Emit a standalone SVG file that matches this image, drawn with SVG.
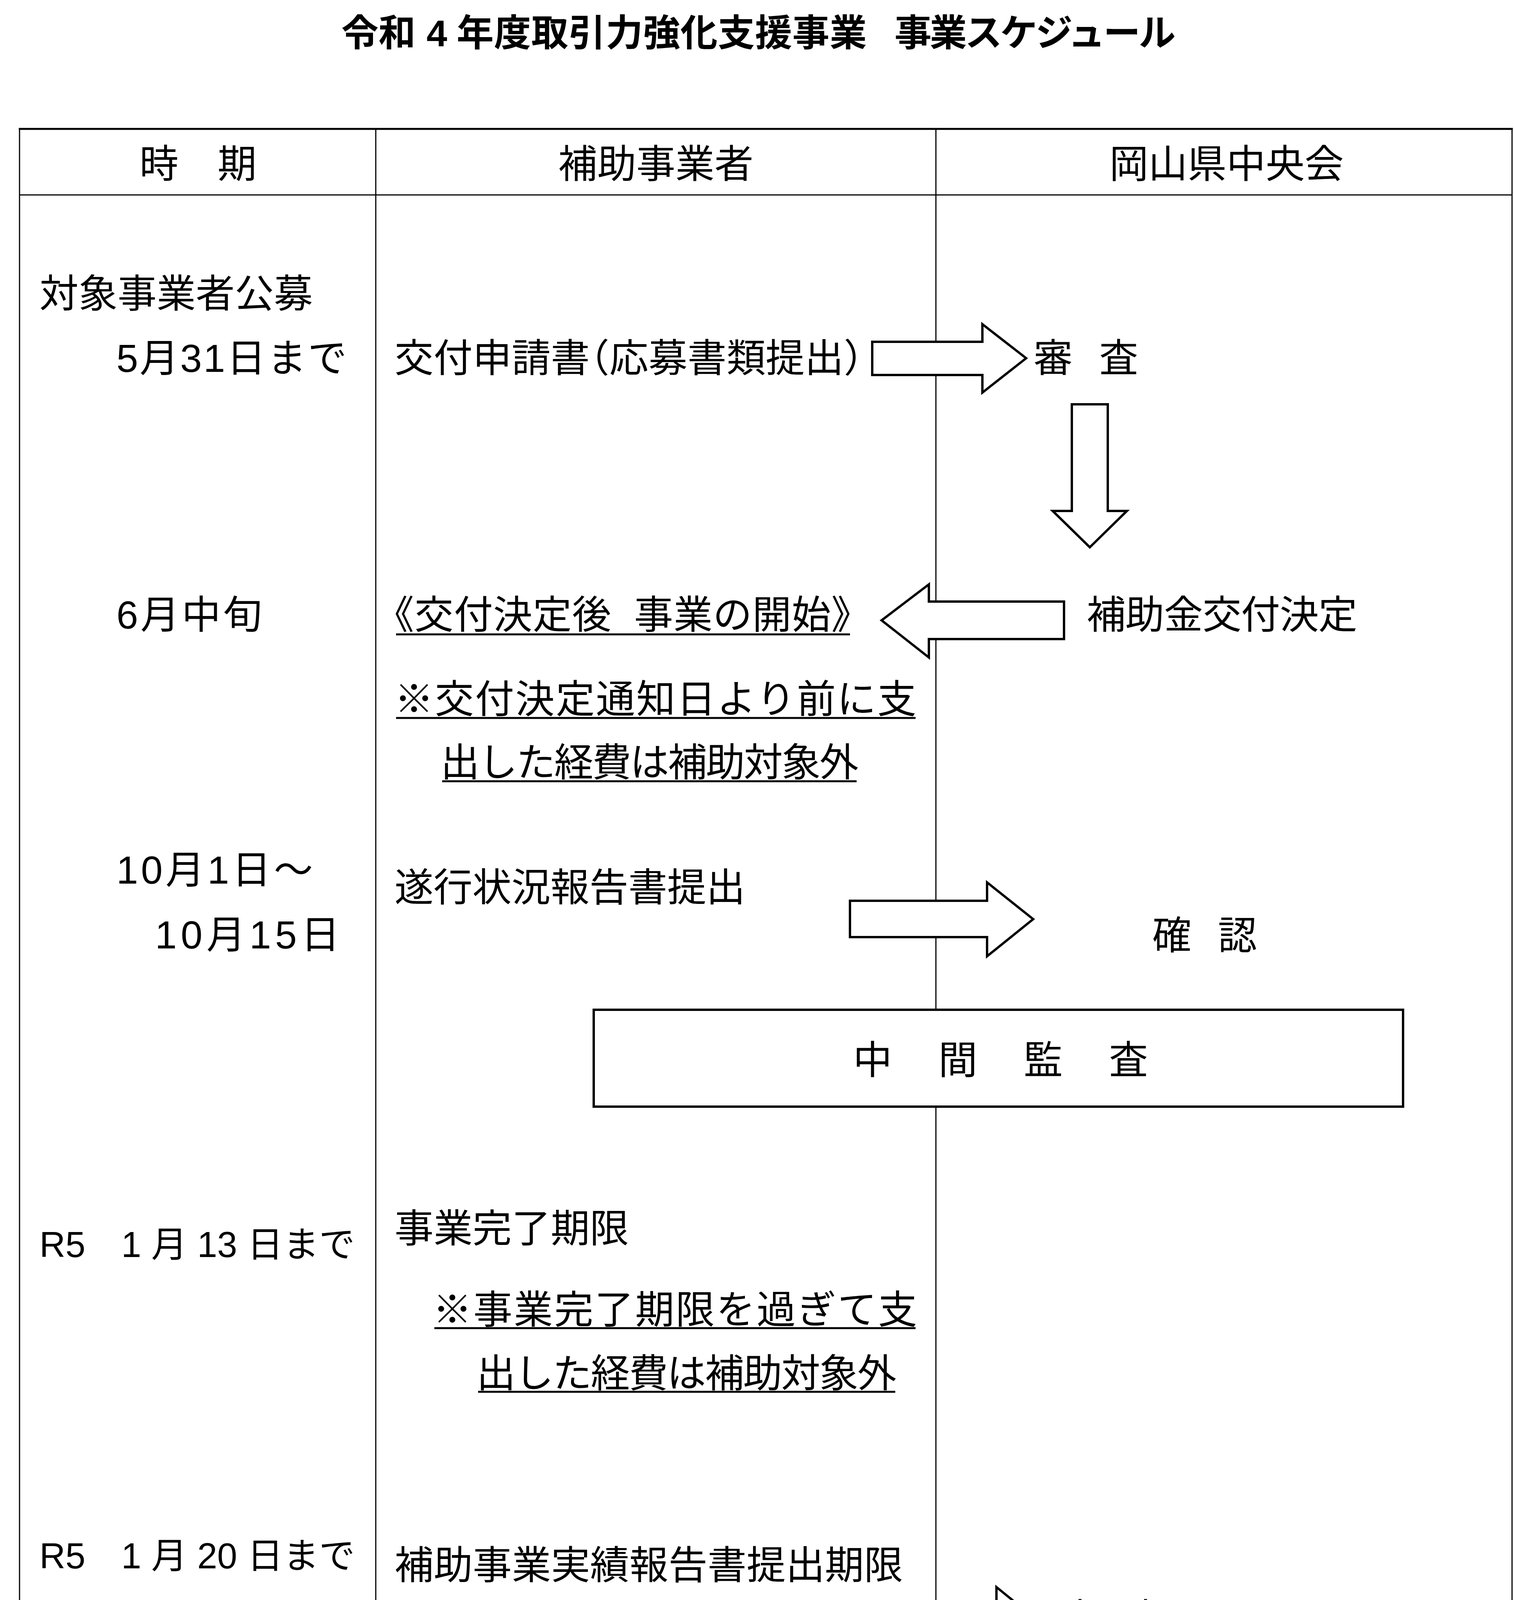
<svg xmlns="http://www.w3.org/2000/svg" width="3876" height="5894" viewBox="0 0 3876 5894">
<style>
.t{font-family:"Liberation Sans","Noto Sans CJK JP",sans-serif;font-size:100px;fill:#000}
.title{font-size:95px;font-weight:bold}
.m{text-anchor:middle}
.halt{font-feature-settings:"halt" 1}
.r5{font-size:92px}
.ln{stroke:#000;fill:none}
.thin{stroke-width:3}
.thick{stroke-width:5}
.arrow{fill:#fff;stroke:#000;stroke-width:6;stroke-linejoin:miter}
.ul{stroke:#000;stroke-width:5}
.box{fill:#fff;stroke:#000;stroke-width:6}
</style>
<rect x="0" y="0" width="3876" height="5894" fill="#fff"/>
<g id="title">
<text class="t title" y="118"><tspan x="874">令和 </tspan><tspan x="1092">4 </tspan><tspan x="1169" textLength="1050">年度取引力強化支援事業</tspan><tspan x="2290" textLength="720">事業スケジュール</tspan></text>
</g>
<g id="table">
<line class="ln thick" x1="48" y1="330" x2="3873" y2="330"/>
<line class="ln thick" x1="48" y1="5729" x2="3873" y2="5729"/>
<line class="ln thin" x1="50" y1="330" x2="50" y2="5729"/>
<line class="ln thin" x1="3871" y1="330" x2="3871" y2="5729"/>
<line class="ln thin" x1="50" y1="499" x2="3871" y2="499"/>
<line class="ln thin" x1="962" y1="330" x2="962" y2="5729"/>
<line class="ln thin" x1="2396" y1="330" x2="2396" y2="5729"/>
</g>
<g id="header">
<text class="t m" x="507" y="455">時　期</text>
<text class="t m" x="1679" y="455">補助事業者</text>
<text class="t m" x="3140" y="455">岡山県中央会</text>
</g>
<g id="period">
<text class="t" x="101" y="787">対象事業者公募</text>
<text class="t" x="298" y="952" textLength="590">5月31日まで</text>
<text class="t" x="298" y="1609" textLength="373">6月中旬</text>
<text class="t" x="298" y="2262" textLength="503">10月1日～</text>
<text class="t" x="397" y="2428" textLength="473">10月15日</text>
<text class="t r5" x="101" y="3218">R5　1 月 13 日まで</text>
<text class="t r5" x="101" y="4015">R5　1 月 20 日まで</text>
<text class="t r5" x="101" y="5002">R5　1 月 31 日まで</text>
<text class="t" x="100" y="5602" textLength="807">令和 6 年 4 月以降</text>
</g>
<g id="connectors">
<polygon class="arrow" points="2233,875 2515,875 2515,830 2627,917 2515,1005 2515,960 2233,960"/>
<polygon class="arrow" points="2744,1035 2836,1035 2836,1308 2885,1308 2790,1401 2695,1308 2744,1308"/>
<polygon class="arrow" points="2724,1540 2378,1540 2378,1496 2257,1588 2378,1683 2378,1636 2724,1636"/>
<polygon class="arrow" points="2176,2306 2527,2306 2527,2259 2645,2353 2527,2448 2527,2399 2176,2399"/>
<polygon class="arrow" points="2341,4108 2551,4108 2551,4063 2658,4150 2551,4236 2551,4193 2341,4193"/>
<polygon class="arrow" points="2744,4244 2831,4244 2831,4438 2885,4438 2788,4505 2695,4438 2744,4438"/>
<polygon class="arrow" points="2561,4685 2595,4756 2184,4957 2201,4993 2026,4992 2132,4852 2150,4888"/>
<polygon class="arrow" points="2447,4918 2744,4918 2744,4873 2843,4962 2744,5051 2744,5007 2447,5007"/>
</g>
<g id="audit">
<rect class="box" x="1520" y="2585" width="2072" height="248"/>
<text class="t" x="2184" y="2749" textLength="755">中　間　監　査</text>
</g>
<g id="applicant">
<text class="t halt" x="1010" y="952" textLength="1200">交付申請書（応募書類提出）</text>
<text class="t halt" x="1010" y="1609" textLength="1168">《交付決定後&#160;&#160;事業の開始》</text>
<text class="t" x="1010" y="1825" textLength="1336">※交付決定通知日より前に支</text>
<text class="t" x="1128" y="1987" textLength="1070">出した経費は補助対象外</text>
<text class="t" x="1010" y="2307" textLength="898">遂行状況報告書提出</text>
<text class="t" x="1010" y="3180" textLength="600">事業完了期限</text>
<text class="t" x="1108" y="3388" textLength="1240">※事業完了期限を過ぎて支</text>
<text class="t" x="1220" y="3551" textLength="1075">出した経費は補助対象外</text>
<text class="t" x="1010" y="4042" textLength="1302">補助事業実績報告書提出期限</text>
<text class="t" x="1010" y="4207" textLength="1150">会計書類･証拠書類の提出</text>
<text class="t" x="1010" y="4368" textLength="1338">※事業完了後、早めの提出を</text>
<text class="t" x="1128" y="4540" textLength="705">心がけてください</text>
<text class="t" x="1010" y="5030" textLength="798">補助金精算払請求</text>
<text class="t halt" x="1010" y="5519" textLength="1338">企業化等状況報告書の提出（5</text>
<text class="t halt" x="1010" y="5684" textLength="250">年間）</text>
</g>
<g id="underlines">
<line class="ul" x1="1014" y1="1624" x2="2176" y2="1624"/>
<line class="ul" x1="1014" y1="1838" x2="2344" y2="1838"/>
<line class="ul" x1="1132" y1="2000" x2="2193" y2="2000"/>
<line class="ul" x1="1112" y1="3400" x2="2344" y2="3400"/>
<line class="ul" x1="1224" y1="3563" x2="2292" y2="3563"/>
<line class="ul" x1="1014" y1="4385" x2="2344" y2="4385"/>
<line class="ul" x1="1125" y1="4549" x2="1834" y2="4549"/>
</g>
<g id="chuokai">
<text class="t" x="2646" y="952" textLength="268">審&#160;&#160;査</text>
<text class="t" x="2782" y="1609" textLength="693">補助金交付決定</text>
<text class="t" x="2950" y="2430" textLength="268">確&#160;&#160;認</text>
<text class="t" x="2715" y="4178" textLength="268">審&#160;&#160;査</text>
<text class="t" x="2782" y="4673" textLength="693">補助金額の確定</text>
<text class="t" x="2913" y="4997" textLength="600">補助金の支払</text>
</g>
</svg>
